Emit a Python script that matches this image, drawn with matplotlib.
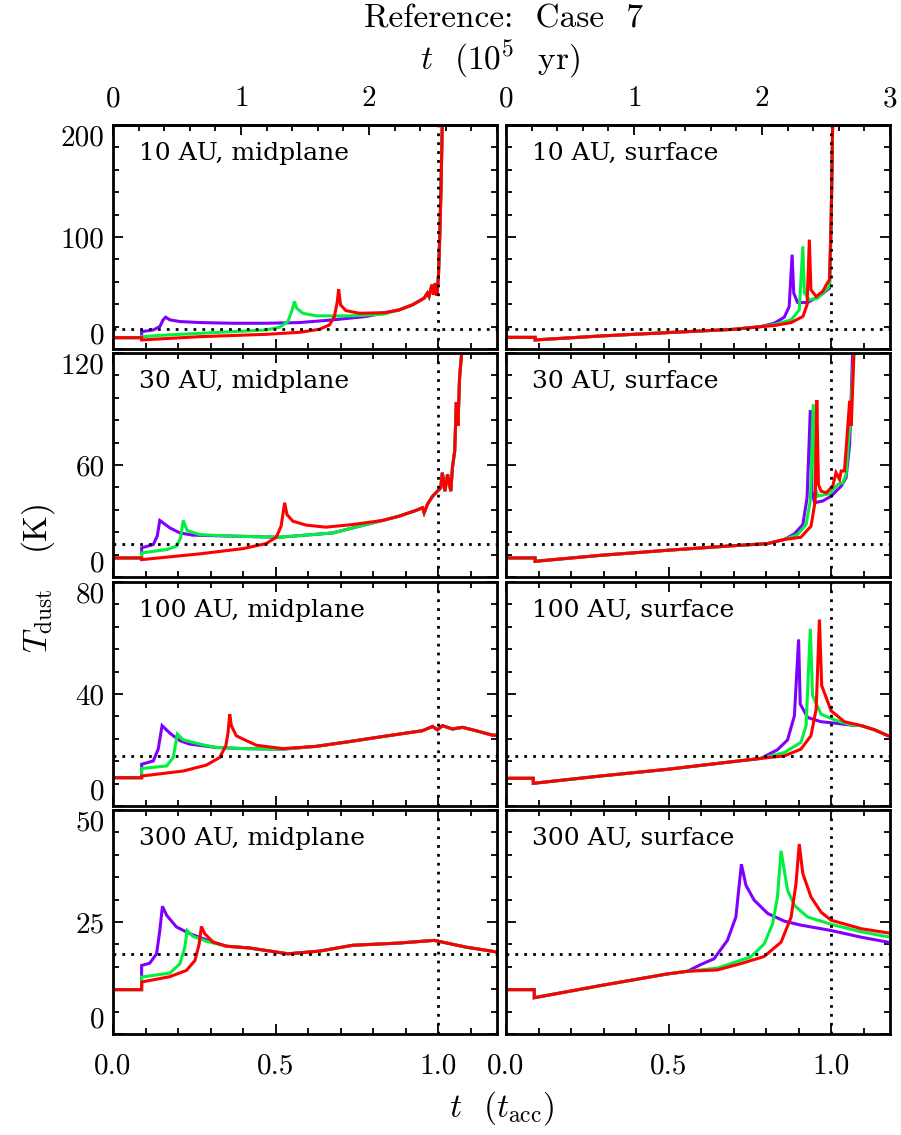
import matplotlib
matplotlib.use('Agg')
import matplotlib.pyplot as plt
from matplotlib.ticker import MultipleLocator

plt.rcParams['font.family'] = 'cmr10'
plt.rcParams['mathtext.fontset'] = 'cm'
plt.rcParams['axes.formatter.use_mathtext'] = True

TACC = 2.54     # t_acc in units of 1e5 yr
T_LINE = 17.9   # horizontal dotted reference temperature (K)

# ---- 10 AU ----
mid10_tail = [(0.880, 34.9), (0.921, 39.4), (0.957, 45.4), (0.967, 49.9), (0.972, 46.9),
              (0.981, 57.3), (0.986, 48.4), (0.991, 58.8), (0.996, 47.5), (1.001, 64.8),
              (1.005, 100.6), (1.009, 145), (1.013, 205)]
mid10_pur = [(0, 10.1), (0.088, 10.1), (0.088, 15.5), (0.124, 17.0), (0.144, 20.0), (0.154, 26.0),
             (0.162, 28.4), (0.175, 26.0), (0.206, 24.5), (0.267, 23.6), (0.369, 23.0), (0.471, 23.0),
             (0.574, 23.6), (0.676, 26.0), (0.778, 29.0)] + mid10_tail
mid10_grn = [(0, 10.1), (0.088, 10.1), (0.088, 11.0), (0.165, 12.5), (0.267, 14.0), (0.369, 15.5),
             (0.471, 17.0), (0.512, 19.4), (0.538, 24.5), (0.551, 34.9), (0.558, 42.4), (0.565, 36.4),
             (0.584, 31.9), (0.625, 29.6), (0.727, 29.6), (0.829, 31.0)] + mid10_tail
mid10_red = [(0, 10.1), (0.088, 10.1), (0.088, 8.1), (0.267, 11.0), (0.471, 13.1), (0.574, 14.9),
             (0.635, 17.6), (0.666, 21.5), (0.681, 29.0), (0.690, 42.4), (0.694, 53.4), (0.700, 39.4),
             (0.716, 34.3), (0.758, 31.9), (0.839, 32.5)] + mid10_tail

srf10_base = [(0, 10.4), (0.0895, 10.4), (0.0895, 8.1), (0.290, 11.6), (0.496, 14.6), (0.702, 17.6),
              (0.784, 20.0)]
srf10_pur = srf10_base + [(0.825, 23.0), (0.856, 28.4), (0.871, 37.9), (0.880, 84.2), (0.885, 49.9),
                          (0.897, 41.5), (0.928, 41.5), (0.969, 48.4), (0.995, 54.3), (1.000, 110),
                          (1.005, 205)]
srf10_grn = srf10_base + [(0.825, 21.8), (0.877, 26.0), (0.902, 34.9), (0.913, 91.6), (0.918, 49.9),
                          (0.933, 43.9), (0.959, 45.4), (0.995, 55.8), (1.000, 110), (1.005, 205)]
srf10_red = srf10_base + [(0.825, 20.9), (0.877, 23.6), (0.913, 29.0), (0.926, 39.4), (0.933, 97.6),
                          (0.938, 52.8), (0.954, 46.9), (0.974, 51.3), (0.985, 57.3), (0.995, 61.8),
                          (1.000, 115), (1.005, 205)]

# ---- 30 AU ----
mid30_tail = [(0.829, 30.3), (0.880, 32.6), (0.931, 35.6), (0.952, 37.1), (0.957, 34.4), (0.967, 38.9),
              (0.983, 43.3), (0.998, 46.0), (1.008, 47.8), (1.013, 55.9), (1.021, 46.0), (1.029, 55.0),
              (1.039, 46.0), (1.044, 58.6), (1.051, 67.5), (1.056, 93.5), (1.061, 81.0), (1.066, 107),
              (1.075, 125)]
mid30_pur = [(0, 10.2), (0.088, 10.2), (0.088, 15.6), (0.124, 17.4), (0.136, 21.9), (0.144, 30.3),
             (0.175, 26.3), (0.206, 23.6), (0.246, 22.4), (0.369, 21.9), (0.512, 21.3), (0.676, 23.6),
             (0.758, 27.2)] + mid30_tail
mid30_grn = [(0, 10.2), (0.088, 10.2), (0.088, 12.9), (0.165, 14.7), (0.195, 16.5), (0.208, 21.0),
             (0.216, 30.3), (0.228, 24.9), (0.267, 22.7), (0.369, 21.9), (0.512, 21.3), (0.676, 23.6),
             (0.758, 27.2)] + mid30_tail
mid30_red = [(0, 10.2), (0.088, 10.2), (0.088, 9.3), (0.267, 12.4), (0.400, 15.2), (0.471, 17.9),
             (0.502, 21.3), (0.517, 27.2), (0.528, 39.8), (0.535, 33.5), (0.553, 29.9), (0.594, 27.8),
             (0.655, 26.7), (0.737, 28.1)] + mid30_tail

srf30_base = [(0, 10.2), (0.0895, 10.2), (0.0895, 8.4), (0.290, 11.6), (0.496, 14.3), (0.702, 16.8),
              (0.805, 17.9), (0.856, 20.1)]
srf30_pur = srf30_base + [(0.887, 23.1), (0.913, 28.1), (0.926, 42.4), (0.936, 89.4), (0.941, 46.0),
                          (0.949, 39.8), (0.974, 40.7), (1.000, 43.3), (1.031, 48.7), (1.046, 53.2),
                          (1.057, 71.1), (1.067, 125)]
srf30_grn = srf30_base + [(0.897, 22.7), (0.923, 28.1), (0.936, 40.7), (0.945, 92.6), (0.951, 47.8),
                          (0.959, 43.3), (0.995, 44.6), (1.021, 49.6), (1.036, 50.5), (1.046, 55.0),
                          (1.057, 80.0), (1.072, 125)]
srf30_red = srf30_base + [(0.907, 21.3), (0.938, 27.2), (0.951, 40.7), (0.956, 94.7), (0.961, 49.6),
                          (0.969, 46.0), (0.985, 45.1), (1.005, 48.7), (1.015, 55.9), (1.026, 52.3),
                          (1.031, 56.8), (1.041, 56.8), (1.051, 80.0), (1.057, 94.4), (1.062, 81.0),
                          (1.070, 119.5), (1.074, 125)]

# ---- 100 AU ----
mid100_tail = [(0.625, 21.3), (0.727, 23.0), (0.829, 24.8), (0.952, 26.9), (0.983, 28.4), (0.998, 27.2),
               (1.013, 28.7), (1.044, 27.5), (1.075, 28.1), (1.116, 26.9), (1.167, 25.3), (1.19, 25.3)]
mid100_pur = [(0, 10.1), (0.088, 10.1), (0.088, 14.9), (0.124, 16.1), (0.139, 20.3), (0.151, 28.7),
              (0.175, 26.0), (0.206, 23.3), (0.236, 22.1), (0.318, 20.9), (0.400, 20.5),
              (0.522, 20.3)] + mid100_tail
mid100_grn = [(0, 10.1), (0.088, 10.1), (0.088, 13.4), (0.165, 14.3), (0.185, 17.3), (0.198, 25.7),
              (0.216, 23.6), (0.267, 22.1), (0.318, 20.9), (0.400, 20.5), (0.522, 20.3)] + mid100_tail
mid100_red = [(0, 10.1), (0.088, 10.1), (0.088, 10.7), (0.216, 12.5), (0.287, 14.6), (0.328, 17.3),
              (0.347, 21.5), (0.354, 26.3), (0.359, 32.8), (0.364, 28.7), (0.379, 25.1), (0.400, 23.9),
              (0.441, 21.7), (0.522, 20.5)] + mid100_tail

srf100_base = [(0, 9.9), (0.084, 9.9), (0.084, 8.1), (0.290, 10.7), (0.496, 13.1), (0.702, 15.9),
               (0.784, 17.0)]
srf100_tail = [(1.093, 28.7), (1.134, 27.2), (1.175, 25.1), (1.19, 25.2)]
srf100_pur = srf100_base + [(0.835, 20.1), (0.866, 23.6), (0.887, 32.2), (0.900, 59.5), (0.905, 36.4),
                            (0.928, 31.6), (0.969, 30.1), (1.010, 29.6), (1.062, 28.9)] + srf100_tail
srf100_grn = srf100_base + [(0.856, 19.1), (0.907, 22.7), (0.923, 28.7), (0.936, 63.3), (0.943, 39.4),
                            (0.969, 32.8), (1.010, 30.8), (1.062, 28.9)] + srf100_tail
srf100_red = srf100_base + [(0.856, 17.9), (0.907, 20.3), (0.938, 25.1), (0.954, 34.6), (0.964, 66.6),
                            (0.971, 43.0), (1.000, 34.0), (1.041, 30.1)] + srf100_tail

# ---- 300 AU ----
mid300_tail = [(0.349, 19.6), (0.420, 19.2), (0.538, 17.9), (0.635, 18.5), (0.737, 19.8), (0.880, 20.3),
               (0.988, 20.9), (1.085, 19.4), (1.19, 18.2)]
mid300_pur = [(0, 9.9), (0.088, 9.9), (0.088, 15.3), (0.113, 15.8), (0.134, 17.9), (0.144, 23.1),
              (0.152, 28.5), (0.165, 26.5), (0.195, 23.9), (0.236, 22.4), (0.277, 21.3),
              (0.308, 20.5)] + mid300_tail
mid300_grn = [(0, 9.9), (0.088, 9.9), (0.088, 12.7), (0.175, 13.6), (0.206, 15.7), (0.221, 19.4),
              (0.228, 23.1), (0.246, 21.8), (0.287, 20.7)] + mid300_tail
mid300_red = [(0, 9.9), (0.088, 9.9), (0.088, 11.6), (0.175, 12.8), (0.226, 14.2), (0.252, 16.4),
              (0.265, 20.1), (0.272, 24.0), (0.282, 22.4), (0.308, 20.5)] + mid300_tail

srf300_base = [(0, 9.9), (0.087, 9.9), (0.087, 8.1), (0.290, 10.8), (0.496, 13.4), (0.558, 14.0)]
srf300_pur = srf300_base + [(0.599, 15.5), (0.640, 16.8), (0.681, 20.9), (0.707, 26.1), (0.724, 37.9),
                            (0.738, 33.2), (0.763, 29.9), (0.805, 26.9), (0.856, 25.2), (0.907, 24.3),
                            (1.000, 23.1), (1.093, 21.6), (1.19, 20.3)]
srf300_grn = srf300_base + [(0.650, 14.7), (0.753, 17.2), (0.794, 20.1), (0.820, 24.6), (0.835, 30.6),
                            (0.846, 40.9), (0.866, 32.1), (0.887, 28.7), (0.928, 26.1), (1.000, 24.5),
                            (1.093, 22.8), (1.19, 21.5)]
srf300_red = srf300_base + [(0.650, 14.3), (0.722, 15.7), (0.794, 17.3), (0.846, 20.5), (0.877, 26.1),
                            (0.892, 33.6), (0.902, 42.4), (0.913, 35.8), (0.938, 30.6), (0.969, 27.2),
                            (1.000, 25.4), (1.093, 23.5), (1.19, 22.4)]

radii = ['10', '30', '100', '300']
y_max = [200, 120, 80, 50]
y_major = [100, 60, 40, 25]
y_minor = [20, 12, 8, 5]
panels = [[(mid10_pur, mid10_grn, mid10_red), (srf10_pur, srf10_grn, srf10_red)],
          [(mid30_pur, mid30_grn, mid30_red), (srf30_pur, srf30_grn, srf30_red)],
          [(mid100_pur, mid100_grn, mid100_red), (srf100_pur, srf100_grn, srf100_red)],
          [(mid300_pur, mid300_grn, mid300_red), (srf300_pur, srf300_grn, srf300_red)]]
kinds = ['midplane', 'surface']
colors = ['#8000ff', '#00f040', '#ff0000']

W, H = 901, 1135
col_x = [113, 506]
col_w = 384
row_top = [125, 353, 582, 810]
row_h = 224
FS = 21      # tick labels
FL = 24      # axis labels / title

fig = plt.figure(figsize=(W / 100, H / 100), dpi=100)

for r in range(4):
    for c in range(2):
        ax = fig.add_axes([col_x[c] / W, 1 - (row_top[r] + row_h) / H, col_w / W, row_h / H])
        for series, col in zip(panels[r][c], colors):
            ax.plot([p[0] for p in series], [p[1] for p in series], color=col, lw=2.2,
                    solid_joinstyle='miter')
        ax.axvline(1.0, color='k', lw=2.0, ls=(0, (1, 2.2)))
        ax.axhline(T_LINE, color='k', lw=2.0, ls=(0, (1, 2.2)))
        ax.set_xlim(0, 3 / TACC)
        ax.set_ylim(0, y_max[r])
        ax.set_xticks([0, 0.5, 1.0], labels=['0.0', '0.5', '1.0'])
        ax.xaxis.set_minor_locator(MultipleLocator(0.1))
        yt = [0, y_major[r], 2 * y_major[r]]
        ax.set_yticks(yt, labels=[str(v) for v in yt])
        ax.yaxis.set_minor_locator(MultipleLocator(y_minor[r]))
        ax.tick_params(which='both', direction='in', top=(r > 0), right=True, width=1.3,
                       labelsize=FS, labelbottom=(r == 3), labelleft=(c == 0))
        ax.tick_params(which='major', length=7)
        ax.tick_params(which='minor', length=4)
        ax.tick_params(axis='x', pad=14)
        ax.tick_params(axis='y', pad=6)
        for sp in ax.spines.values():
            sp.set_linewidth(2.0)
        if c == 0:
            labs = ax.get_yticklabels()
            labs[0].set_va('bottom')
            labs[-1].set_va('top')
        ax.text(26 / col_w, 1 - 17 / row_h, f'{radii[r]} AU, {kinds[c]}', transform=ax.transAxes,
                ha='left', va='top', fontsize=18, family='DejaVu Serif')
        if r == 0:
            sec = ax.secondary_xaxis('top', functions=(lambda t: t * TACC, lambda y: y / TACC))
            sec.set_xticks([0, 1, 2] if c == 0 else [0, 1, 2, 3])
            sec.xaxis.set_minor_locator(MultipleLocator(0.2))
            sec.tick_params(which='both', direction='in', width=1.3, labelsize=FS, pad=9)
            sec.tick_params(which='major', length=7)
            sec.tick_params(which='minor', length=4)
            sec.spines['top'].set_linewidth(2.0)

fig.text(503 / W, 1 - 19 / H, 'Reference:  Case  7', ha='center', va='center', fontsize=FL)
fig.text(500 / W, 1 - 60 / H, r'$t$  ($10^5$  yr)', ha='center', va='center', fontsize=FL)
fig.text(502 / W, 1 - 1108 / H, r'$t$  ($t_{\rm acc}$)', ha='center', va='center', fontsize=FL)
fig.text(38 / W, 1 - 578 / H, r'$T_{\rm dust}$   (K)', ha='center', va='center', rotation=90,
         fontsize=FL)

fig.savefig('out.png', dpi=100)
